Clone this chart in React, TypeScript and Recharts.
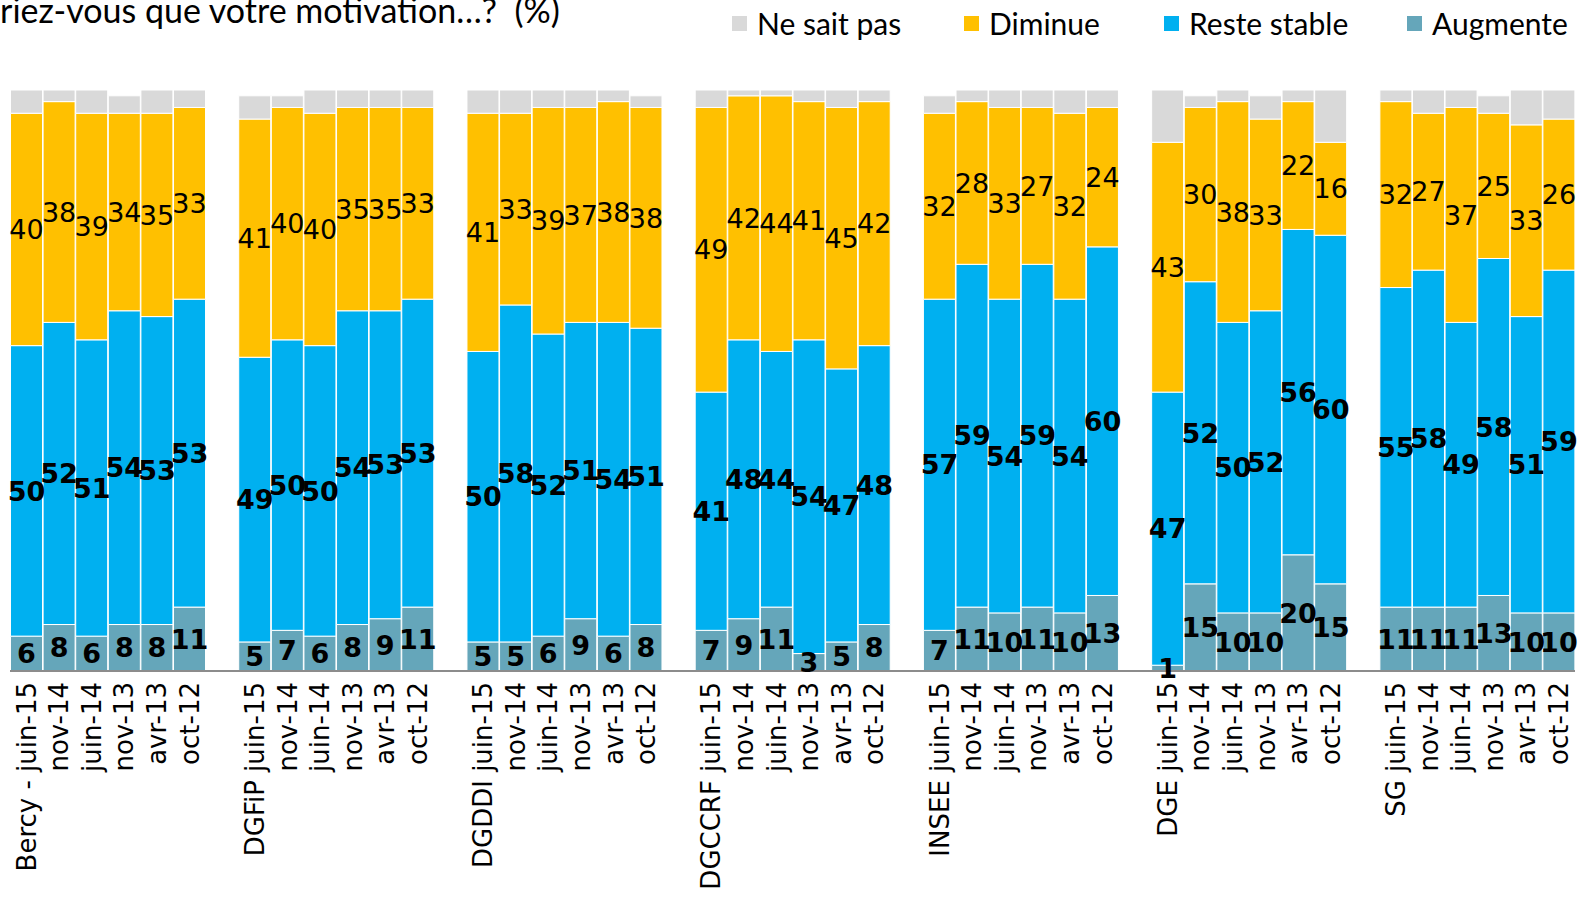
import React from 'react';
import { BarChart, Bar, XAxis, YAxis, LabelList } from 'recharts';

// one group per direction, six survey waves each
const groups = ['Bercy -', 'DGFiP', 'DGDDI', 'DGCCRF', 'INSEE', 'DGE', 'SG'];
const periods = ['juin-15', 'nov-14', 'juin-14', 'nov-13', 'avr-13', 'oct-12'];

const augmente = [
  [6, 8, 6, 8, 8, 11],
  [5, 7, 6, 8, 9, 11],
  [5, 5, 6, 9, 6, 8],
  [7, 9, 11, 3, 5, 8],
  [7, 11, 10, 11, 10, 13],
  [1, 15, 10, 10, 20, 15],
  [11, 11, 11, 13, 10, 10],
];
const resteStable = [
  [50, 52, 51, 54, 53, 53],
  [49, 50, 50, 54, 53, 53],
  [50, 58, 52, 51, 54, 51],
  [41, 48, 44, 54, 47, 48],
  [57, 59, 54, 59, 54, 60],
  [47, 52, 50, 52, 56, 60],
  [55, 58, 49, 58, 51, 59],
];
const diminue = [
  [40, 38, 39, 34, 35, 33],
  [41, 40, 40, 35, 35, 33],
  [41, 33, 39, 37, 38, 38],
  [49, 42, 44, 41, 45, 42],
  [32, 28, 33, 27, 32, 24],
  [43, 30, 38, 33, 22, 16],
  [32, 27, 37, 25, 33, 26],
];
const neSaitPas = [
  [4, 2, 4, 3, 4, 3],
  [4, 2, 4, 3, 3, 3],
  [4, 4, 3, 3, 2, 2],
  [3, 1, 1, 2, 3, 2],
  [3, 2, 3, 3, 4, 3],
  [9, 2, 2, 4, 2, 9],
  [2, 4, 3, 3, 6, 5],
];

const title = 'riez-vous que votre motivation…?  (%)';

const COLORS = {
  nsp: '#D9D9D9',
  diminue: '#FFC000',
  stable: '#00B0F0',
  augmente: '#65A6BA',
};

const legendItems = [
  { name: 'Ne sait pas', color: COLORS.nsp, left: 732 },
  { name: 'Diminue', color: COLORS.diminue, left: 964 },
  { name: 'Reste stable', color: COLORS.stable, left: 1164 },
  { name: 'Augmente', color: COLORS.augmente, left: 1407 },
];

type Row = {
  key: string;
  label: string;
  augmente: number | null;
  stable: number | null;
  diminue: number | null;
  nsp: number | null;
};

const rows: Row[] = [];
groups.forEach((g, gi) => {
  periods.forEach((p, pi) => {
    rows.push({
      key: `g${gi}p${pi}`,
      label: pi === 0 ? `${g} ${p}` : p,
      augmente: augmente[gi][pi],
      stable: resteStable[gi][pi],
      diminue: diminue[gi][pi],
      nsp: neSaitPas[gi][pi],
    });
  });
  if (gi < groups.length - 1) {
    rows.push({ key: `gap${gi}`, label: '', augmente: null, stable: null, diminue: null, nsp: null });
  }
});

const labelByKey: Record<string, string> = {};
rows.forEach((r) => (labelByKey[r.key] = r.label));

const makeLabel = (bold: boolean) => (props: any) => {
  const { x, y, width, height, value } = props;
  if (value == null) return null;
  return (
    <text
      x={Number(x) + Number(width) / 2}
      y={Number(y) + Number(height) / 2}
      dy="0.36em"
      textAnchor="middle"
      style={{ fontFamily: '"DejaVu Sans"', fontSize: 27, fontWeight: bold ? 700 : 400 }}
      fill="#000"
    >
      {value}
    </text>
  );
};

const PeriodTick = (props: any) => {
  const { x, y, payload } = props;
  const text = labelByKey[payload.value];
  if (!text) return null;
  return (
    <g transform={`translate(${x},${y + 11})`}>
      <text
        transform="rotate(-90)"
        textAnchor="end"
        dy="0.36em"
        style={{ fontFamily: '"DejaVu Sans"', fontSize: 26 }}
        fill="#000"
      >
        {text}
      </text>
    </g>
  );
};

export default function App() {
  return (
    <div style={{ position: 'absolute', left: 0, top: 0, width: 1579, height: 899, overflow: 'hidden', background: '#fff' }}>
      <div
        style={{
          position: 'absolute',
          left: 0,
          top: -7,
          fontFamily: 'Lato',
          fontSize: 34,
          lineHeight: '34px',
          whiteSpace: 'pre',
          color: '#000',
        }}
      >
        {title}
      </div>
      {legendItems.map((it) => (
        <div
          key={it.name}
          style={{ position: 'absolute', left: it.left, top: 6, height: 34, display: 'flex', alignItems: 'center' }}
        >
          <span style={{ width: 15, height: 15, background: it.color, display: 'inline-block', marginRight: 10 }} />
          <span style={{ fontFamily: 'Lato', fontSize: 30, color: '#000', lineHeight: '34px' }}>{it.name}</span>
        </div>
      ))}
      <BarChart
        width={1579}
        height={899}
        data={rows}
        margin={{ top: 90, right: 4, bottom: 8, left: 10 }}
        barCategoryGap={0.5}
        style={{ position: 'absolute', left: 0, top: 0 }}
      >
        <XAxis
          dataKey="key"
          interval={0}
          tickLine={false}
          tickSize={0}
          tickMargin={0}
          height={220}
          axisLine={{ stroke: '#8c8c8c', strokeWidth: 2 }}
          tick={<PeriodTick />}
        />
        <YAxis hide domain={[0, 100]} />
        <Bar dataKey="augmente" stackId="a" fill={COLORS.augmente} stroke="#fff" strokeWidth={1} isAnimationActive={false}>
          <LabelList dataKey="augmente" content={makeLabel(true)} />
        </Bar>
        <Bar dataKey="stable" stackId="a" fill={COLORS.stable} stroke="#fff" strokeWidth={1} isAnimationActive={false}>
          <LabelList dataKey="stable" content={makeLabel(true)} />
        </Bar>
        <Bar dataKey="diminue" stackId="a" fill={COLORS.diminue} stroke="#fff" strokeWidth={1} isAnimationActive={false}>
          <LabelList dataKey="diminue" content={makeLabel(false)} />
        </Bar>
        <Bar dataKey="nsp" stackId="a" fill={COLORS.nsp} stroke="#fff" strokeWidth={1} isAnimationActive={false} />
      </BarChart>
    </div>
  );
}
